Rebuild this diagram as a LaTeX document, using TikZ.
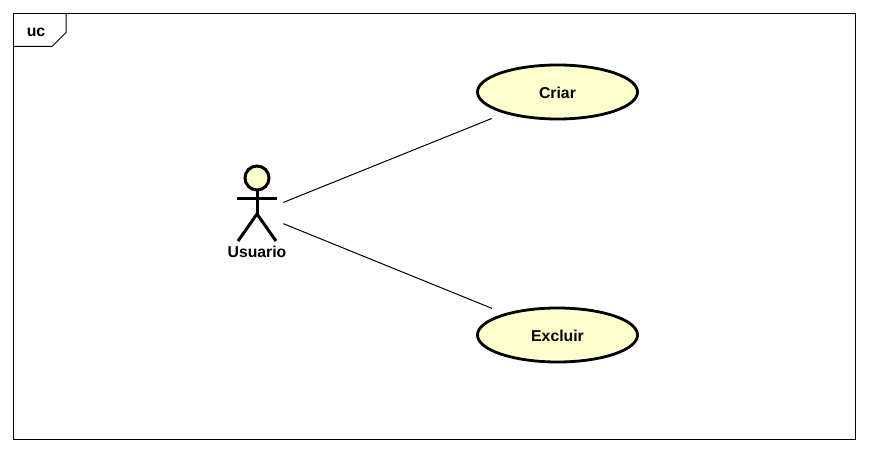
\documentclass[tikz,border=0pt]{standalone}
\usepackage{fontspec}
\setmainfont{Liberation Sans}
\usetikzlibrary{shapes.geometric}
\definecolor{ucfill}{RGB}{255,255,206}
\tikzset{
	px/.style={x=0.025cm,y=-0.025cm},
	usecase/.style={ellipse,draw,line width=0.07cm,fill=ucfill,minimum width=4cm,minimum height=1.35cm,inner sep=0pt,text height=9.4pt,text depth=0pt,font=\bfseries\fontsize{11.2}{13}\selectfont},
	actorbox/.style={rectangle,minimum width=1.3cm,minimum height=2.35cm,inner sep=0pt},
	stick/.style={line width=0.075cm},
	assoc/.style={line width=0.025cm,shorten >=0.335cm},
	label/.style={inner sep=0pt,font=\bfseries\fontsize{11.2}{13}\selectfont}
}
\begin{document}
\begin{tikzpicture}[px]
	\useasboundingbox (0,0) rectangle (869,452);
	% frame and its tab
	\draw[line width=0.025cm] (13.5,13.5) rectangle (855.5,439.5);
	\draw[line width=0.025cm] (13.5,46.5) -- (52,46.5) -- (66,32.5) -- (66,13.5);
	\node[label] (uc) at (36,32) {uc};
	% actor
	\node[actorbox] (usuario) at (257,213) {};
	\draw[stick,fill=ucfill] (257,178) circle (12);
	\draw[stick] (257,190) -- (257,214);
	\draw[stick] (237,198.5) -- (277,198.5);
	\draw[stick] (238,241) -- (257,214) -- (276,241);
	\node[label] (usuariolabel) at (257,251.5) {Usuario};
	% use cases
	\node[usecase] (criar) at (557.5,92) {Criar};
	\node[usecase] (excluir) at (557.5,335) {Excluir};
	\draw[assoc] (usuario) -- (criar);
	\draw[assoc] (usuario) -- (excluir);
\end{tikzpicture}
\end{document}
